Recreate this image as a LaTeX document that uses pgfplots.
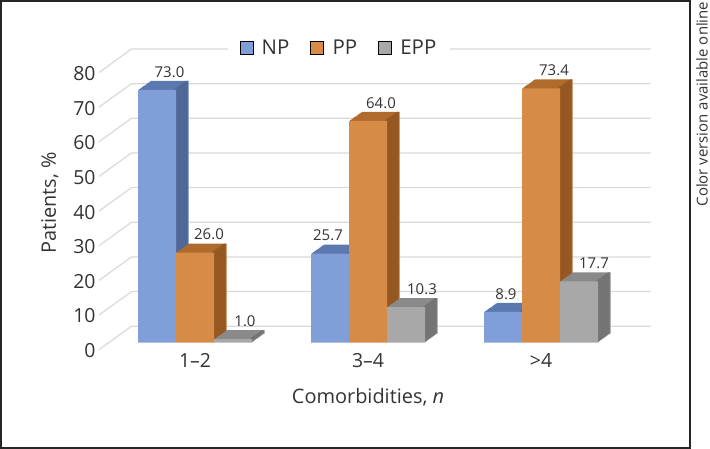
\documentclass[border=0pt]{standalone}
\usepackage{pgfplots}
\pgfplotsset{compat=1.18}
\usepackage{pgfplotstable}
\usepackage{fontspec}
\setmainfont{Open Sans}

\definecolor{npfront}{RGB}{128,159,217}
\definecolor{nptop}{RGB}{91,121,176}
\definecolor{npside}{RGB}{80,104,152}
\definecolor{ppfront}{RGB}{214,139,70}
\definecolor{pptop}{RGB}{176,106,44}
\definecolor{ppside}{RGB}{150,88,34}
\definecolor{eppfront}{RGB}{168,168,168}
\definecolor{epptop}{RGB}{138,138,138}
\definecolor{eppside}{RGB}{116,116,116}
\definecolor{gridc}{RGB}{217,217,217}
\definecolor{txt}{RGB}{51,51,51}

% group, value, label offset from group centre (bp)
\pgfplotstableread{
x y lx
0 73.0 -25.5
1 25.7 -40
2 8.9 -35
}\npdata
\pgfplotstableread{
x y lx
0 26.0 14
1 64.0 13
2 73.4 13
}\ppdata
\pgfplotstableread{
x y lx
0 1.0 50
1 10.3 54
2 17.7 53
}\eppdata

% #1 table, #2 bar shift, #3 side strip shift, #4 front, #5 top, #6 side
\newcommand\barseries[6]{%
  \pgfplotsinvokeforeach{1,...,12}{%
    \addplot[ybar, bar width=38bp, bar shift=#2, fill=#5, draw=none, forget plot,
      xshift=##1*1.0417bp, yshift=##1*0.75bp] table[x=x,y=y] {#1};
  }%
  \pgfplotsinvokeforeach{1,...,12}{%
    \addplot[ybar, bar width=2bp, bar shift=#3, fill=#6, draw=none, forget plot,
      xshift=##1*1.0417bp, yshift=##1*0.75bp] table[x=x,y=y] {#1};
  }%
  \addplot[ybar, bar width=38bp, bar shift=#2, fill=#4, draw=none, forget plot,
    nodes near coords={\pgfmathprintnumber[fixed,fixed zerofill,precision=1]{\pgfplotspointmeta}},
    visualization depends on={\thisrow{lx} \as \lx},
    every node near coord/.append style={xshift=\lx*1bp, yshift=9bp, anchor=south,
      font=\fontsize{15}{18}\selectfont, text=txt}] table[x=x,y=y] {#1};
}

\begin{document}
\begin{tikzpicture}
\path[use as bounding box] (0bp,0bp) rectangle (710bp,449bp);
\draw[line width=2.4bp, black!85] (1.2bp,1.2bp) rectangle (690bp,447.8bp);
\node[rotate=90, anchor=base east, font=\fontsize{15}{17}\selectfont, text=txt, inner sep=0pt]
  at (707.5bp,447.5bp) {Color version available online};

\begin{axis}[
  at={(108.5bp,106.3bp)}, anchor=south west,
  scale only axis, width=519bp, height=277.2bp,
  xmin=-0.5, xmax=2.5, ymin=0, ymax=80,
  clip=false,
  axis line style={draw=none},
  major tick length=0pt,
  xtick={0,1,2}, xticklabels={1--2,3--4,>4},
  ytick={0,10,...,80},
  /pgf/number format/assume math mode=true,
  tick label style={font=\fontsize{19.5}{23}\selectfont, text=txt},
  yticklabel style={xshift=-9.5bp, yshift=-8bp},
  xticklabel style={yshift=-7bp},
  xlabel={Comorbidities, \textit{n}},
  ylabel={Patients, \%},
  every axis x label/.style={at={(rel axis cs:0.5,-0.196)}, anchor=center,
    font=\fontsize{20}{24}\selectfont, text=txt},
  every axis y label/.style={at={(rel axis cs:-0.113,0.504)}, rotate=90, anchor=center,
    font=\fontsize{20}{24}\selectfont, text=txt},
  legend columns=3,
  legend image code/.code={\fill[#1] (0bp,-6.5bp) rectangle (13bp,6.5bp);
    \path[draw=none, fill=none] (0bp,0bp) -- (20bp,0bp);},
  legend style={at={(0.444,1.063)}, anchor=center, draw=none, fill=white,
    font=\fontsize{20.5}{24}\selectfont, text=txt, inner xsep=12bp, inner ysep=2bp,
    /tikz/every even column/.append style={column sep=19bp}},
]
% back wall and side wall grid lines
\pgfplotsinvokeforeach{0,10,...,80}{
  \draw[gridc, line width=1.2bp]
    ([shift={(-9.5bp,-7bp)}]axis cs:-0.5,#1) -- ([shift={(23bp,16.5bp)}]axis cs:-0.5,#1)
    -- ([shift={(23bp,16.5bp)}]axis cs:2.5,#1);
}
\barseries{\npdata}{-38bp}{-21bp}{npfront}{nptop}{npside}
\barseries{\ppdata}{0bp}{17bp}{ppfront}{pptop}{ppside}
\barseries{\eppdata}{38bp}{55bp}{eppfront}{epptop}{eppside}
\addlegendimage{fill=npfront}\addlegendentry{NP}
\addlegendimage{fill=ppfront}\addlegendentry{PP}
\addlegendimage{fill=eppfront}\addlegendentry{EPP}
\end{axis}
\end{tikzpicture}
\end{document}
